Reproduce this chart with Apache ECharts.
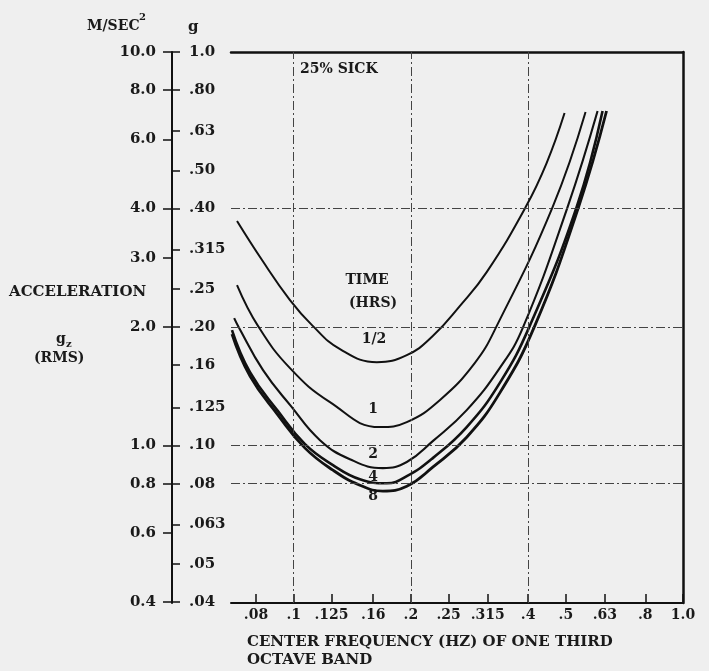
<!DOCTYPE html>
<html><head><meta charset="utf-8">
<script src="https://cdn.jsdelivr.net/npm/echarts@6/dist/echarts.min.js"></script>
<style>html,body{margin:0;padding:0;background:#efefef}#c{width:709px;height:671px}</style>
</head><body><div id="c"></div>
<script>
// ---- data ----
const xTicks = [0.08, 0.1, 0.125, 0.16, 0.2, 0.25, 0.315, 0.4, 0.5, 0.63, 0.8, 1.0];
const xTickLabels = ['.08', '.1', '.125', '.16', '.2', '.25', '.315', '.4', '.5', '.63', '.8', '1.0'];
const gTicks = [1.0, 0.8, 0.63, 0.5, 0.4, 0.315, 0.25, 0.2, 0.16, 0.125, 0.1, 0.08, 0.063, 0.05, 0.04];
const gTickLabels = ['1.0', '.80', '.63', '.50', '.40', '.315', '.25', '.20', '.16', '.125', '.10', '.08', '.063', '.05', '.04'];
const mTicks = [10, 8, 6, 4, 3, 2, 1, 0.8, 0.6, 0.4];
const mTickLabels = ['10.0', '8.0', '6.0', '4.0', '3.0', '2.0', '1.0', '0.8', '0.6', '0.4'];
const gridFreq = [0.1, 0.2, 0.4];
const gridAccel = [0.4, 0.2, 0.1, 0.08];

const curveHalf = [[0.0715,0.372],[0.0829,0.296],[0.0978,0.2342],[0.1114,0.2023],[0.1315,0.1758],[0.1635,0.1629],[0.1952,0.1697],[0.2276,0.1897],[0.2670,0.2261],[0.3131,0.2759],[0.3943,0.4036],[0.4463,0.5222],[0.4963,0.6997]];
const curve1 = [[0.0715,0.2557],[0.0810,0.2011],[0.0978,0.1573],[0.1239,0.1289],[0.1664,0.1114],[0.1952,0.1147],[0.2372,0.1304],[0.2917,0.1620],[0.3321,0.2011],[0.4624,0.4036],[0.5619,0.7038]];
const curve2 = [[0.0703,0.2108],[0.0720,0.2011],[0.0834,0.1554],[0.0984,0.1259],[0.1168,0.1032],[0.1394,0.0923],[0.1694,0.0876],[0.1952,0.0908],[0.2276,0.1026],[0.2782,0.1230],[0.3381,0.1573],[0.3874,0.1988],[0.5052,0.4036],[0.6033,0.7080]];
const curve4 = [[0.0694,0.1965],[0.0772,0.1536],[0.0911,0.1223],[0.1069,0.1008],[0.1261,0.0892],[0.1479,0.0821],[0.1735,0.0802],[0.1952,0.0836],[0.2276,0.0929],[0.2782,0.1114],[0.3381,0.1441],[0.4037,0.2011],[0.5329,0.4036],[0.6214,0.7080]];
const curve8 = [[0.0694,0.1919],[0.0772,0.1501],[0.0911,0.1195],[0.1069,0.0985],[0.1261,0.0866],[0.1479,0.0793],[0.1694,0.0766],[0.1952,0.0788],[0.2276,0.0881],[0.2782,0.1050],[0.3381,0.1359],[0.4158,0.2011],[0.5392,0.4036],[0.6362,0.7080]];
const curveNames = ['1/2', '1', '2', '4', '8'];

// ---- chart ----
const FONT = '"DejaVu Serif", serif';
const INK = '#1a1a1a';
function lookup(vals, labels) {
  return function (v) {
    let best = 0, bd = Infinity;
    for (let i = 0; i < vals.length; i++) {
      const d = Math.abs(Math.log(v) - Math.log(vals[i]));
      if (d < bd) { bd = d; best = i; }
    }
    return labels[best];
  };
}
const chart = echarts.init(document.getElementById('c'), null, {renderer: 'canvas'});
const lineBase = {type: 'line', smooth: 0.45, symbol: 'none', silent: true, xAxisIndex: 0, yAxisIndex: 0};
const curves = [curveHalf, curve1, curve2, curve4, curve8];
const widths = [2.0, 2.0, 2.1, 2.6, 2.8];
const series = curves.map((d, i) => Object.assign({}, lineBase, {
  name: curveNames[i], data: d,
  lineStyle: {color: '#111', width: widths[i]}
}));
series[0].markLine = {
  silent: true, symbol: ['none', 'none'], label: {show: false},
  lineStyle: {color: '#444', width: 1, type: [9, 3, 2, 3]},
  data: gridFreq.map(v => ({xAxis: v})).concat(gridAccel.map(v => ({yAxis: v})))
};

const txt = (text, x, y, size, align) => ({
  type: 'text', x: x, y: y, silent: true,
  style: {text: text, fill: INK, font: 'bold ' + size + 'px ' + FONT, align: align || 'left', verticalAlign: 'middle'}
});

chart.setOption({
  backgroundColor: '#efefef',
  animation: false,
  grid: {left: 231, right: 26, top: 52, bottom: 68},
  xAxis: [{
    type: 'log', min: 0.069, max: 1.0, position: 'bottom',
    axisLine: {show: true, lineStyle: {color: '#111', width: 2}},
    axisTick: {show: true, inside: true, length: 9, customValues: xTicks, lineStyle: {color: '#111', width: 1.5}},
    axisLabel: {customValues: xTicks, formatter: lookup(xTicks, xTickLabels), margin: 5, color: INK, fontFamily: FONT, fontWeight: 'bold', fontSize: 14},
    splitLine: {show: false}, minorTick: {show: false}
  }, {
    type: 'log', min: 0.069, max: 1.0, position: 'top',
    axisLine: {show: true, lineStyle: {color: '#111', width: 2.5}},
    axisTick: {show: false}, axisLabel: {show: false}, splitLine: {show: false}
  }],
  yAxis: [{
    type: 'log', min: 0.0398, max: 1.0, position: 'left', offset: 59,
    axisLine: {show: true, lineStyle: {color: '#111', width: 2}},
    axisTick: {show: true, inside: true, length: 8, customValues: gTicks, lineStyle: {color: '#111', width: 1.5}},
    axisLabel: {inside: true, customValues: gTicks, formatter: lookup(gTicks, gTickLabels), margin: 17, color: INK, fontFamily: FONT, fontWeight: 'bold', fontSize: 15},
    splitLine: {show: false}, minorTick: {show: false}
  }, {
    type: 'log', min: 0.398, max: 10, position: 'left', offset: 59,
    axisLine: {show: false},
    axisTick: {show: true, inside: false, length: 9, customValues: mTicks, lineStyle: {color: '#111', width: 1.5}},
    axisLabel: {customValues: mTicks, formatter: lookup(mTicks, mTickLabels), margin: 16, color: INK, fontFamily: FONT, fontWeight: 'bold', fontSize: 15},
    splitLine: {show: false}, minorTick: {show: false}
  }, {
    type: 'log', min: 0.0398, max: 1.0, position: 'right',
    axisLine: {show: true, lineStyle: {color: '#111', width: 2.5}},
    axisTick: {show: false}, axisLabel: {show: false}, splitLine: {show: false}
  }],
  series: series,
  graphic: [
    txt('M/SEC', 87, 26, 14),
    txt('2', 139, 17, 10),
    txt('g', 188, 27, 15),
    txt('ACCELERATION', 9, 292, 15),
    txt('g', 56, 339, 14),
    txt('z', 66, 344, 10),
    txt('(RMS)', 34, 358, 14),
    txt('CENTER FREQUENCY (HZ) OF ONE THIRD', 247, 642, 15),
    txt('OCTAVE BAND', 247, 660, 15),
    txt('25% SICK', 300, 69, 14),
    txt('TIME', 367, 280, 14, 'center'),
    txt('(HRS)', 373, 303, 14, 'center'),
    txt(curveNames[0], 374, 339, 14, 'center'),
    txt(curveNames[1], 373, 409, 14, 'center'),
    txt(curveNames[2], 373, 454, 14, 'center'),
    txt(curveNames[3], 373, 477, 14, 'center'),
    txt(curveNames[4], 373, 496, 14, 'center')
  ]
});
</script>
</body></html>
